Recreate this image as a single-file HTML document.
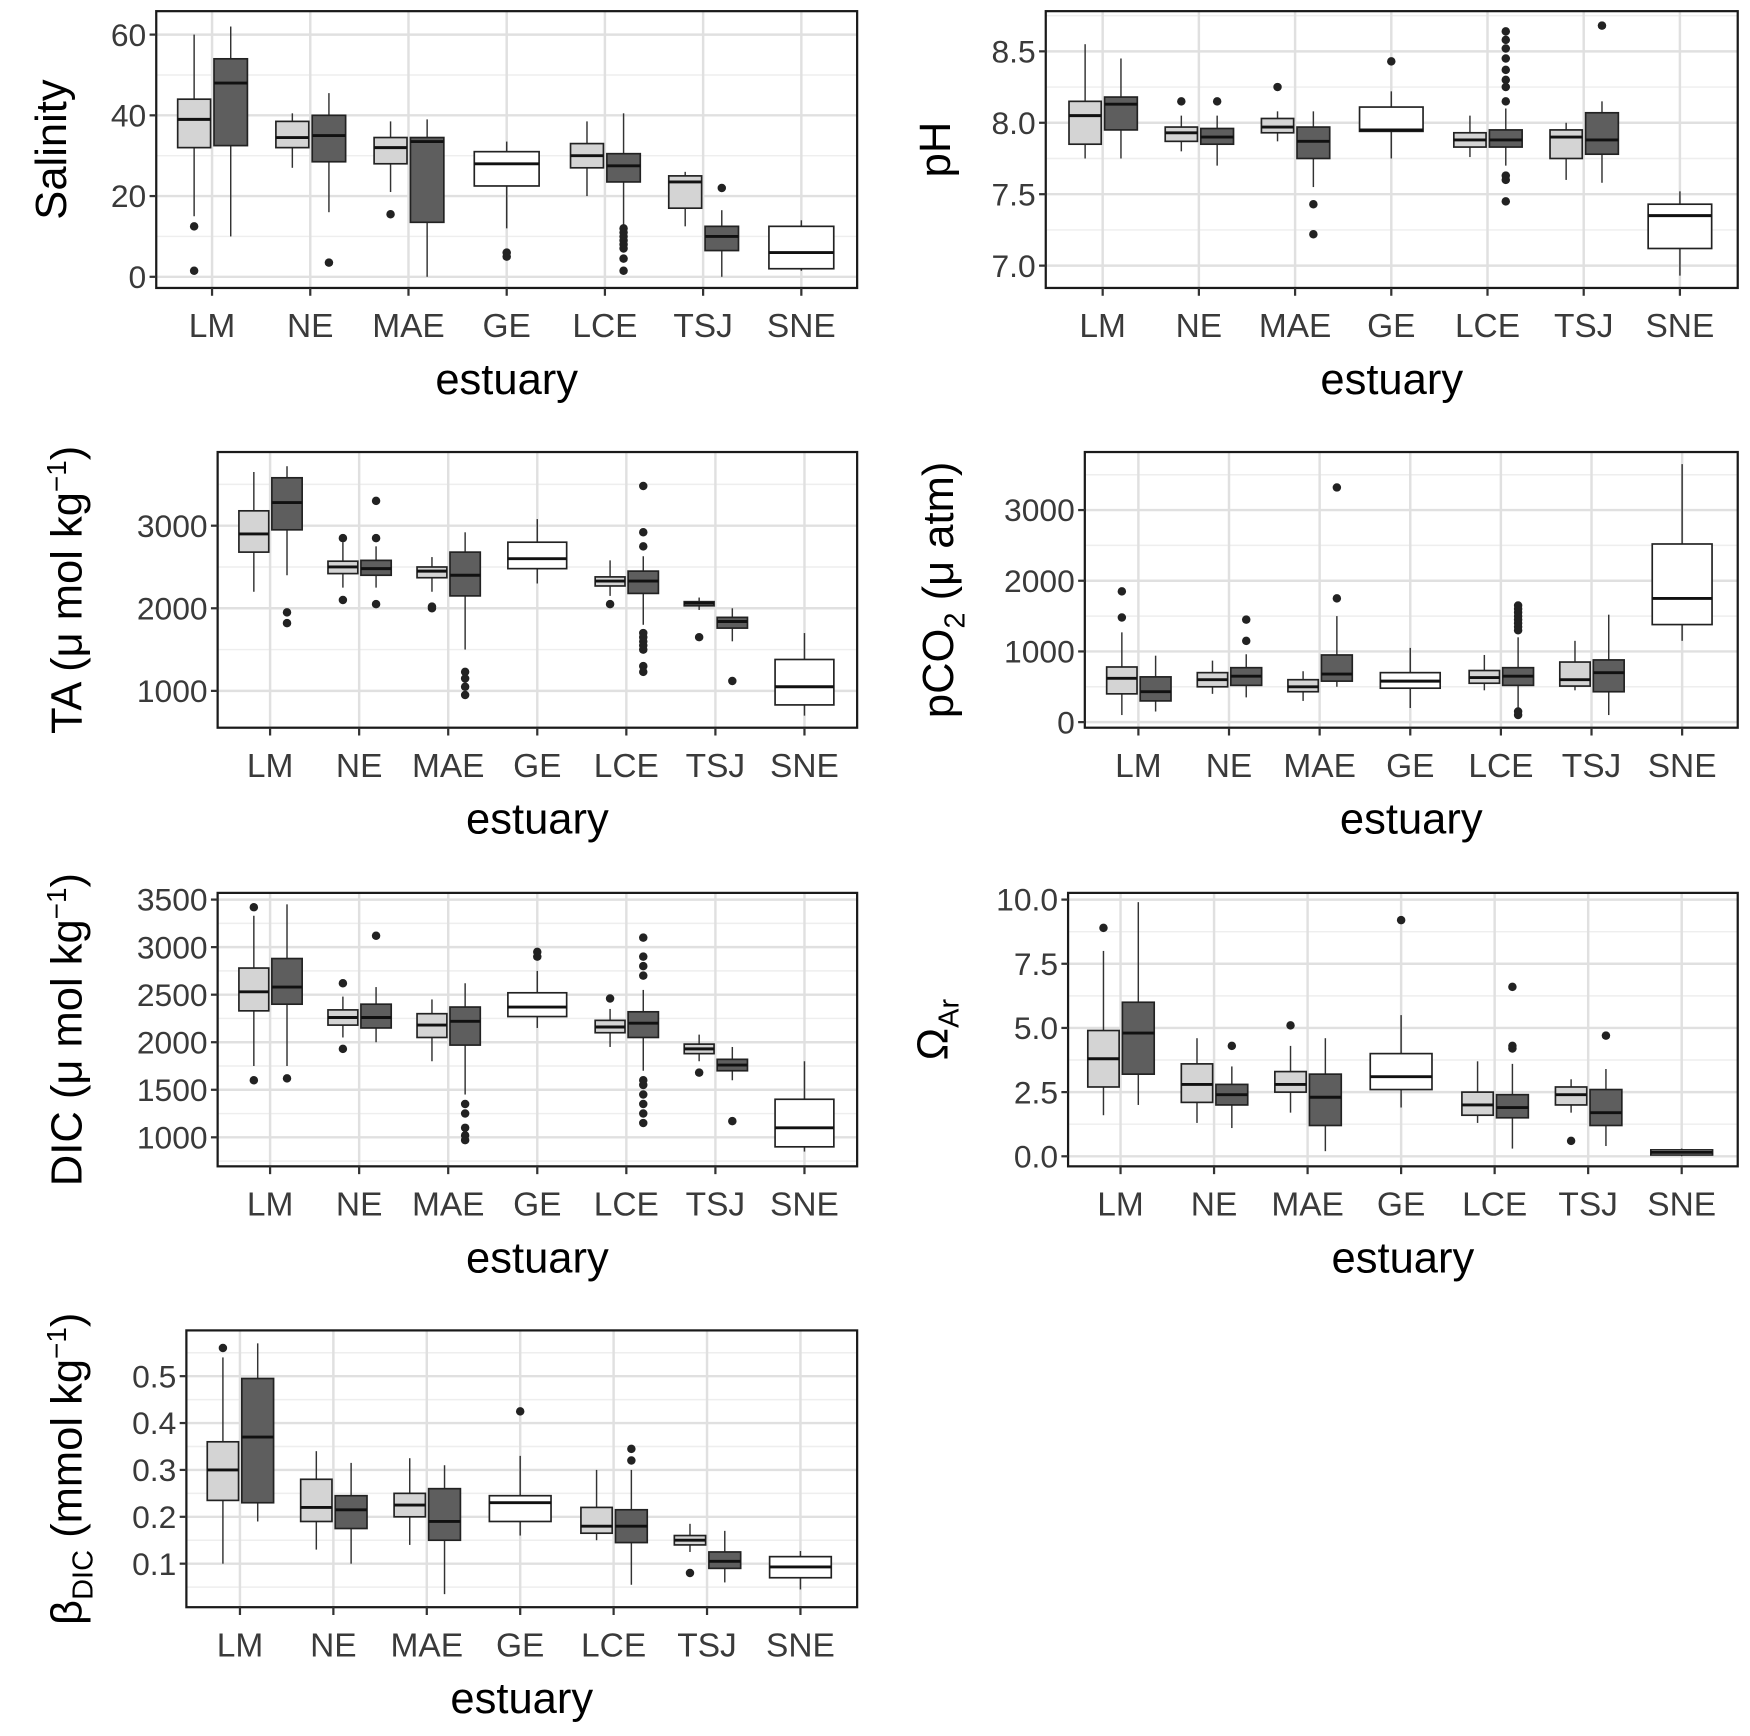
<!DOCTYPE html>
<html><head><meta charset="utf-8"><style>
html,body{margin:0;padding:0;background:#fff;}
svg{display:block;}
text{font-family:"Liberation Sans",Arial,sans-serif;}
</style></head><body>
<svg id="fig" width="1750" height="1736" viewBox="0 0 1568 1555.4" preserveAspectRatio="none" xmlns="http://www.w3.org/2000/svg"></svg>
<script>
const categories = ["LM","NE","MAE","GE","LCE","TSJ","SNE"];
// box stats: [lower whisker, q1, median, q3, upper whisker]; null = no box
const salLight = [[15,32,39,44,60],[27,32,34.5,38.5,40.5],[21,28,32,34.5,38.5],null,[20,27,30,33,38.5],[12.5,17,23.5,25,26],null];
const salDark  = [[10,32.5,48,54,62],[16,28.5,35,40,45.5],[0,13.5,33.5,34.5,39],null,[12,23.5,27.5,30.5,40.5],[0,6.5,10,12.5,16.5],null];
const salSingle= [null,null,null,[12,22.5,28,31,33.5],null,null,[1.5,2,6,12.5,14]];
const salOutL = [[12.5,1.5],[],[15.5],[],[],[],[]];
const salOutD = [[],[3.5],[],[],[12,11,10,9,8,7,4.5,1.5],[22],[]];
const salOutS = [[],[],[],[5,6],[],[],[]];
const salTicks = [0,20,40,60];

const phLight = [[7.75,7.85,8.05,8.15,8.55],[7.8,7.87,7.93,7.97,8.05],[7.87,7.93,7.97,8.03,8.08],null,[7.76,7.83,7.88,7.93,8.05],[7.6,7.75,7.9,7.95,8.0],null];
const phDark  = [[7.75,7.95,8.13,8.18,8.45],[7.7,7.85,7.9,7.96,8.05],[7.55,7.75,7.87,7.97,8.08],null,[7.7,7.83,7.88,7.95,8.1],[7.58,7.78,7.88,8.07,8.15],null];
const phSingle= [null,null,null,[7.75,7.94,7.95,8.11,8.22],null,null,[6.93,7.12,7.35,7.43,7.52]];
const phOutL = [[],[8.15],[8.25],[],[],[],[]];
const phOutD = [[],[8.15],[7.43,7.22],[],[8.64,8.58,8.52,8.45,8.37,8.3,8.25,8.15,7.63,7.6,7.45],[8.68],[]];
const phOutS = [[],[],[],[8.43],[],[],[]];
const phTicks = [7.0,7.5,8.0,8.5];

const taLight = [[2200,2680,2900,3180,3650],[2250,2420,2500,2570,2800],[2200,2370,2450,2500,2620],null,[2150,2270,2330,2380,2580],[1980,2030,2060,2080,2130],null];
const taDark  = [[2400,2950,3280,3580,3720],[2250,2400,2480,2580,2750],[1500,2150,2400,2680,2920],null,[1800,2180,2330,2450,2630],[1600,1760,1840,1890,2000],null];
const taSingle= [null,null,null,[2300,2480,2600,2800,3080],null,null,[700,830,1050,1380,1700]];
const taOutL = [[],[2850,2100],[2000,2020],[],[2050],[1650],[]];
const taOutD = [[1950,1820],[3300,2850,2050],[1230,1150,1050,950],[],[3480,2920,2750,1700,1650,1600,1550,1500,1300,1230],[1120],[]];
const taOutS = [[],[],[],[],[],[],[]];
const taTicks = [1000,2000,3000];

const pcLight = [[100,400,620,780,1270],[400,500,600,700,870],[300,430,500,600,720],null,[450,550,630,730,950],[450,510,600,850,1150],null];
const pcDark  = [[150,300,430,640,940],[350,520,650,770,960],[500,580,680,950,1500],null,[200,520,650,770,1200],[100,430,700,880,1520],null];
const pcSingle= [null,null,null,[200,480,580,700,1050],null,null,[1150,1380,1750,2520,3650]];
const pcOutL = [[1850,1480],[],[],[],[],[],[]];
const pcOutD = [[],[1450,1150],[3320,1750],[],[1650,1600,1550,1500,1450,1400,1350,1300,150,100],[],[]];
const pcOutS = [[],[],[],[],[],[],[]];
const pcTicks = [0,1000,2000,3000];

const dicLight = [[1750,2330,2530,2780,3330],[2050,2180,2260,2340,2480],[1800,2050,2180,2300,2450],null,[1950,2100,2160,2230,2350],[1800,1880,1930,1980,2080],null];
const dicDark  = [[1750,2400,2580,2880,3450],[2000,2150,2260,2400,2580],[1450,1970,2220,2370,2620],null,[1700,2050,2200,2320,2550],[1600,1700,1760,1820,1950],null];
const dicSingle= [null,null,null,[2150,2270,2370,2520,2750],null,null,[850,900,1100,1400,1800]];
const dicOutL = [[3420,1600],[2620,1930],[],[],[2460],[1680],[]];
const dicOutD = [[1620],[3120],[1350,1250,1100,1020,970],[],[3100,2900,2800,2700,1600,1550,1450,1350,1250,1150],[1170],[]];
const dicOutS = [[],[],[],[2900,2950],[],[],[]];
const dicTicks = [1000,1500,2000,2500,3000,3500];

const omLight = [[1.6,2.7,3.8,4.9,8.0],[1.3,2.1,2.8,3.6,4.6],[1.7,2.5,2.8,3.3,4.3],null,[1.3,1.6,2.0,2.5,3.7],[1.7,2.0,2.4,2.7,3.0],null];
const omDark  = [[2.0,3.2,4.8,6.0,9.9],[1.1,2.0,2.4,2.8,3.5],[0.2,1.2,2.3,3.2,4.6],null,[0.3,1.5,1.9,2.4,3.6],[0.4,1.2,1.7,2.6,3.4],null];
const omSingle= [null,null,null,[1.9,2.6,3.1,4.0,5.5],null,null,[0.0,0.05,0.15,0.25,0.3]];
const omOutL = [[8.9],[],[5.1],[],[],[0.6],[]];
const omOutD = [[],[4.3],[],[],[6.6,4.3,4.2],[4.7],[]];
const omOutS = [[],[],[],[9.2],[],[],[]];
const omTicks = [0,2.5,5,7.5,10];

const beLight = [[0.10,0.235,0.30,0.36,0.54],[0.13,0.19,0.22,0.28,0.34],[0.14,0.20,0.225,0.25,0.325],null,[0.15,0.165,0.18,0.22,0.30],[0.125,0.14,0.15,0.16,0.185],null];
const beDark  = [[0.19,0.23,0.37,0.495,0.57],[0.10,0.175,0.215,0.245,0.315],[0.035,0.15,0.19,0.26,0.31],null,[0.055,0.145,0.18,0.215,0.30],[0.06,0.09,0.105,0.125,0.17],null];
const beSingle= [null,null,null,[0.16,0.19,0.23,0.245,0.33],null,null,[0.045,0.07,0.093,0.115,0.127]];
const beOutL = [[0.56],[],[],[],[],[0.08],[]];
const beOutD = [[],[],[],[],[0.345,0.32],[],[]];
const beOutS = [[],[],[],[0.425],[],[],[]];
const beTicks = [0.1,0.2,0.3,0.4,0.5];

const NS="http://www.w3.org/2000/svg";
const svg=document.getElementById('fig');
function mk(tag,attrs,parent){const e=document.createElementNS(NS,tag);for(const k in attrs)e.setAttribute(k,attrs[k]);(parent||svg).appendChild(e);return e;}

function panel(cfg){
  const g=mk('g',{});
  
  
  const {x0,x1,y0,y1}=cfg;
  const yS=v=>cfg.ya+(v-cfg.va)*(cfg.yb-cfg.ya)/(cfg.vb-cfg.va);
  const cx=i=>cfg.c0+i*cfg.sp;
  mk('rect',{x:x0,y:y0,width:x1-x0,height:y1-y0,fill:'#fff'},g);
  const ticks=cfg.ticks, step=ticks[1]-ticks[0];
  const minors=[];
  for(let t=ticks[0]-step/2;t<=ticks[ticks.length-1]+step;t+=step)minors.push(t);
  minors.forEach(t=>{const y=yS(t);if(y>y0&&y<y1)mk('line',{x1:x0,x2:x1,y1:y,y2:y,stroke:'#eeeeee','stroke-width':1.3},g);});
  ticks.forEach(t=>{const y=yS(t);mk('line',{x1:x0,x2:x1,y1:y,y2:y,stroke:'#e0e0e0','stroke-width':2.2},g);});
  categories.forEach((c,i)=>mk('line',{x1:cx(i),x2:cx(i),y1:y0,y2:y1,stroke:'#e0e0e0','stroke-width':2.2},g));
  function box(st,outs,l,r,fill,name){
    if(!st)return;
    const bg=mk('g',{},g);
    
    
    const m=(l+r)/2;
    mk('line',{x1:m,x2:m,y1:yS(st[0]),y2:yS(st[1]),stroke:'#333','stroke-width':1.3},bg);
    mk('line',{x1:m,x2:m,y1:yS(st[3]),y2:yS(st[4]),stroke:'#333','stroke-width':1.3},bg);
    mk('rect',{x:l,y:yS(st[3]),width:r-l,height:Math.max(1,yS(st[1])-yS(st[3])),fill:fill,stroke:'#222','stroke-width':1.5},bg);
    mk('line',{x1:l,x2:r,y1:yS(st[2]),y2:yS(st[2]),stroke:'#111','stroke-width':2.6},bg);
    (outs||[]).forEach(o=>mk('circle',{cx:m,cy:yS(o),r:3.8,fill:'#222'},bg));
  }
  const sp=cfg.sp;
  categories.forEach((c,i)=>{
    const m=cx(i);
    box(cfg.light[i],cfg.outL[i],m-0.35*sp,m-0.015*sp,'#d4d4d4','box-'+c.toLowerCase()+'-light');
    box(cfg.dark[i],cfg.outD[i],m+0.02*sp,m+0.36*sp,'#5e5e5e','box-'+c.toLowerCase()+'-dark');
    box(cfg.single[i],cfg.outS[i],m-0.33*sp,m+0.33*sp,'#ffffff','box-'+c.toLowerCase());
  });
  mk('rect',{x:x0,y:y0,width:x1-x0,height:y1-y0,fill:'none',stroke:'#1a1a1a','stroke-width':2},g);
  ticks.forEach(t=>{
    const y=yS(t);
    mk('line',{x1:x0-6,x2:x0,y1:y,y2:y,stroke:'#333','stroke-width':2},g);
    const tx=mk('text',{x:x0-9,y:y+10,'text-anchor':'end','font-size':28.5,fill:'#3a3a3a'},g);
    
    
    tx.textContent=cfg.fmt(t);
  });
  categories.forEach((c,i)=>{
    mk('line',{x1:cx(i),x2:cx(i),y1:y1,y2:y1+7,stroke:'#333','stroke-width':2},g);
    const tx=mk('text',{x:cx(i),y:y1+44,'text-anchor':'middle','font-size':30,fill:'#3a3a3a'},g);
    
    
    tx.textContent=c;
  });
  const xt=mk('text',{x:(x0+x1)/2,y:y1+95,'text-anchor':'middle','font-size':39,fill:'#000'},g);
  
  
  xt.textContent='estuary';
  const yt=mk('text',{transform:`translate(${cfg.lx},${(y0+y1)/2}) rotate(-90)`,'text-anchor':'middle','font-size':39,fill:'#000'},g);
  
  
  yt.innerHTML=cfg.label;
}
const f0=t=>String(t), f1=t=>t.toFixed(1);
const unit='(μ mol kg<tspan dy="-14" font-size="25">−1</tspan><tspan dy="14">)</tspan>';
panel({name:'salinity',x0:140,x1:768,y0:10,y1:258,va:0,ya:248,vb:60,yb:31,c0:190,sp:88,ticks:salTicks,fmt:f0,lx:59,label:'Salinity',light:salLight,dark:salDark,single:salSingle,outL:salOutL,outD:salOutD,outS:salOutS});
panel({name:'ph',x0:937,x1:1557,y0:10,y1:258,va:7.0,ya:238,vb:8.5,yb:46,c0:988,sp:86.2,ticks:phTicks,fmt:f1,lx:851,label:'pH',light:phLight,dark:phDark,single:phSingle,outL:phOutL,outD:phOutD,outS:phOutS});
panel({name:'ta',x0:195,x1:768,y0:405,y1:652,va:1000,ya:619,vb:3000,yb:471,c0:242,sp:79.8,ticks:taTicks,fmt:f0,lx:73,label:'TA '+unit,light:taLight,dark:taDark,single:taSingle,outL:taOutL,outD:taOutD,outS:taOutS});
panel({name:'pco2',x0:972,x1:1557,y0:405,y1:652,va:0,ya:647,vb:3000,yb:457,c0:1020,sp:81.2,ticks:pcTicks,fmt:f0,lx:854,label:'pCO<tspan dy="10" font-size="26">2</tspan><tspan dy="-10"> (μ atm)</tspan>',light:pcLight,dark:pcDark,single:pcSingle,outL:pcOutL,outD:pcOutD,outS:pcOutS});
panel({name:'dic',x0:195,x1:768,y0:800,y1:1045,va:1000,ya:1019,vb:3500,yb:806,c0:242,sp:79.8,ticks:dicTicks,fmt:f0,lx:73,label:'DIC '+unit,light:dicLight,dark:dicDark,single:dicSingle,outL:dicOutL,outD:dicOutD,outS:dicOutS});
panel({name:'omega-ar',x0:957,x1:1557,y0:800,y1:1045,va:0,ya:1036,vb:10,yb:806,c0:1004,sp:83.8,ticks:omTicks,fmt:f1,lx:849,label:'Ω<tspan dy="10" font-size="26">Ar</tspan>',light:omLight,dark:omDark,single:omSingle,outL:omOutL,outD:omOutD,outS:omOutS});
panel({name:'beta-dic',x0:167,x1:768,y0:1192,y1:1440,va:0.1,ya:1401,vb:0.5,yb:1233,c0:215,sp:83.7,ticks:beTicks,fmt:f1,lx:73,label:'β<tspan dy="10" font-size="26">DIC</tspan><tspan dy="-10"> (mmol kg</tspan><tspan dy="-14" font-size="25">−1</tspan><tspan dy="14">)</tspan>',light:beLight,dark:beDark,single:beSingle,outL:beOutL,outD:beOutD,outS:beOutS});
</script>
</body></html>
